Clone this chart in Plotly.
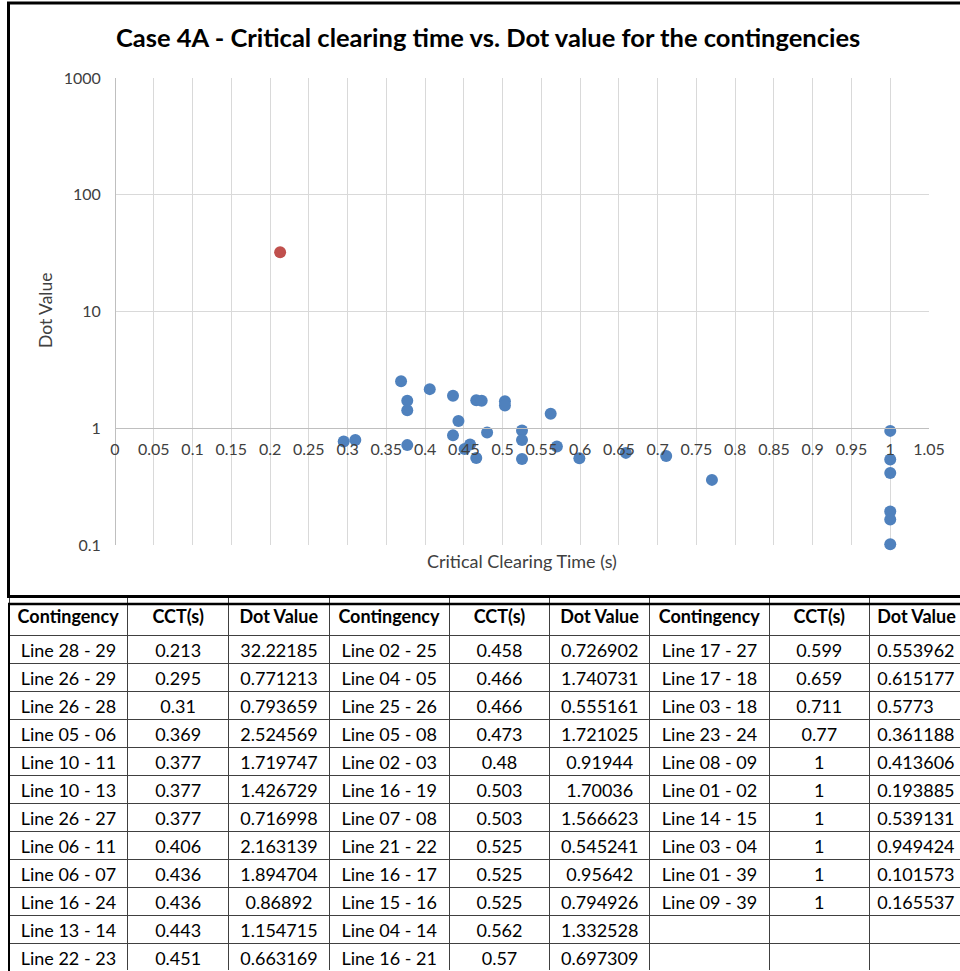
import plotly.graph_objects as go

# ---------------- data ----------------
contingency_1 = ["Line 28 - 29", "Line 26 - 29", "Line 26 - 28", "Line 05 - 06", "Line 10 - 11", "Line 10 - 13",
                 "Line 26 - 27", "Line 06 - 11", "Line 06 - 07", "Line 16 - 24", "Line 13 - 14", "Line 22 - 23"]
cct_1 = ["0.213", "0.295", "0.31", "0.369", "0.377", "0.377", "0.377", "0.406", "0.436", "0.436", "0.443", "0.451"]
dot_1 = ["32.22185", "0.771213", "0.793659", "2.524569", "1.719747", "1.426729", "0.716998", "2.163139",
         "1.894704", "0.86892", "1.154715", "0.663169"]

contingency_2 = ["Line 02 - 25", "Line 04 - 05", "Line 25 - 26", "Line 05 - 08", "Line 02 - 03", "Line 16 - 19",
                 "Line 07 - 08", "Line 21 - 22", "Line 16 - 17", "Line 15 - 16", "Line 04 - 14", "Line 16 - 21"]
cct_2 = ["0.458", "0.466", "0.466", "0.473", "0.48", "0.503", "0.503", "0.525", "0.525", "0.525", "0.562", "0.57"]
dot_2 = ["0.726902", "1.740731", "0.555161", "1.721025", "0.91944", "1.70036", "1.566623", "0.545241",
         "0.95642", "0.794926", "1.332528", "0.697309"]

contingency_3 = ["Line 17 - 27", "Line 17 - 18", "Line 03 - 18", "Line 23 - 24", "Line 08 - 09", "Line 01 - 02",
                 "Line 14 - 15", "Line 03 - 04", "Line 01 - 39", "Line 09 - 39"]
cct_3 = ["0.599", "0.659", "0.711", "0.77", "1", "1", "1", "1", "1", "1"]
dot_3 = ["0.553962", "0.615177", "0.5773", "0.361188", "0.413606", "0.193885", "0.539131", "0.949424",
         "0.101573", "0.165537"]

highlight = "Line 28 - 29"

x_tick_vals = [0, 0.05, 0.1, 0.15, 0.2, 0.25, 0.3, 0.35, 0.4, 0.45, 0.5, 0.55, 0.6, 0.65, 0.7, 0.75,
               0.8, 0.85, 0.9, 0.95, 1, 1.05]
x_tick_text = ["0", "0.05", "0.1", "0.15", "0.2", "0.25", "0.3", "0.35", "0.4", "0.45", "0.5", "0.55", "0.6",
               "0.65", "0.7", "0.75", "0.8", "0.85", "0.9", "0.95", "1", "1.05"]
y_tick_vals = [0.1, 1, 10, 100, 1000]
y_tick_text = ["0.1", "1", "10", "100", "1000"]

title_text = "Case 4A - Critical clearing time vs. Dot value for the contingencies"
x_title = "Critical Clearing Time (s)"
y_title = "Dot Value"
headers = ["Contingency", "CCT(s)", "Dot Value"] * 3

# ---------------- helpers ----------------
W, H = 960, 971
FONT = "Lato"
EMPTY_HEADER = 22   # height plotly keeps for the (empty) table header
TABLE_TOP = 603


def px(x):
    return x / W


def py(y):
    return 1 - y / H


def nb(s):
    return s.replace(" ", "\u00a0")


all_names = contingency_1 + contingency_2 + contingency_3
all_cct = [float(v) for v in cct_1 + cct_2 + cct_3]
all_dot = [float(v) for v in dot_1 + dot_2 + dot_3]

blue_x = [c for n, c in zip(all_names, all_cct) if n != highlight]
blue_y = [d for n, d in zip(all_names, all_dot) if n != highlight]
red_x = [c for n, c in zip(all_names, all_cct) if n == highlight]
red_y = [d for n, d in zip(all_names, all_dot) if n == highlight]

fig = go.Figure()

n_rows = len(contingency_1)
data_cols = [contingency_1, cct_1, dot_1, contingency_2, cct_2, dot_2, contingency_3, cct_3, dot_3]
table_cols = []
for h, col in zip(headers, data_cols):
    full = list(col) + [""] * (n_rows - len(col))
    table_cols.append(["<b>%s</b>" % nb(h)] + [nb(v) for v in full])

fig.add_trace(go.Table(
    domain=dict(x=[px(9), 1], y=[0, py(TABLE_TOP - EMPTY_HEADER)]),
    columnwidth=[119, 101, 101, 120, 101, 100, 120, 100, 91],
    header=dict(values=[], height=0, line=dict(width=0, color="white"), fill_color="rgba(0,0,0,0)"),
    cells=dict(values=table_cols,
               height=28, font=dict(family=FONT, size=18, color="black"),
               fill_color="white", line=dict(color="#404040", width=1),
               align=["center"] * 8 + ["left"]),
))

fig.add_trace(go.Scatter(x=blue_x, y=blue_y, mode="markers",
                         marker=dict(size=12, color="#4F81BD"), showlegend=False, cliponaxis=False))
fig.add_trace(go.Scatter(x=red_x, y=red_y, mode="markers",
                         marker=dict(size=12, color="#C0504D"), showlegend=False, cliponaxis=False))

fig.update_layout(
    width=W, height=H,
    margin=dict(l=0, r=0, t=0, b=0, autoexpand=False),
    paper_bgcolor="white", plot_bgcolor="white",
    font=dict(family=FONT, color="#595959"),
    xaxis=dict(domain=[px(115), px(929)], range=[0, 1.05], anchor="free", position=py(428),
               tickvals=x_tick_vals, ticktext=x_tick_text, showline=True, linecolor="#bfbfbf",
               linewidth=1, showgrid=True, gridcolor="#d9d9d9", zeroline=False, ticks="", automargin=False,
               tickfont=dict(size=16, color="#404040", family=FONT), ticklabelstandoff=7),
    yaxis=dict(domain=[py(545), py(78)], type="log", range=[-1, 3], anchor="free", position=px(115),
               tickvals=y_tick_vals, ticktext=y_tick_text, showline=True, linecolor="#bfbfbf",
               linewidth=1, showgrid=True, gridcolor="#d9d9d9", zeroline=False, ticks="", automargin=False,
               tickfont=dict(size=16, color="#404040", family=FONT), ticklabelstandoff=11),
    annotations=[
        dict(text="<b>%s</b>" % title_text, x=px(488), y=py(37), xref="paper", yref="paper",
             showarrow=False, font=dict(size=25.5, color="black", family=FONT), xanchor="center", yanchor="middle"),
        dict(text=x_title, x=px(522), y=py(561), xref="paper", yref="paper", showarrow=False,
             font=dict(size=18, color="#404040", family=FONT), xanchor="center", yanchor="middle"),
        dict(text=y_title, x=px(45), y=py(311), xref="paper", yref="paper", showarrow=False, textangle=-90,
             font=dict(size=17.5, color="#404040", family=FONT), xanchor="center", yanchor="middle"),
    ],
    shapes=[
        dict(type="rect", xref="paper", yref="paper", x0=px(8.5), x1=px(966), y0=py(3), y1=py(596.5),
             line=dict(color="black", width=3), layer="above"),
        dict(type="line", xref="paper", yref="paper", x0=px(8), x1=1.01, y0=py(604), y1=py(604),
             line=dict(color="black", width=2.5), layer="above"),
        dict(type="line", xref="paper", yref="paper", x0=px(9), x1=px(9), y0=py(603), y1=0,
             line=dict(color="black", width=2), layer="above"),
    ],
)

fig.write_html("out.html",
               post_script="document.body.style.margin='0';document.body.style.overflow='hidden';")
